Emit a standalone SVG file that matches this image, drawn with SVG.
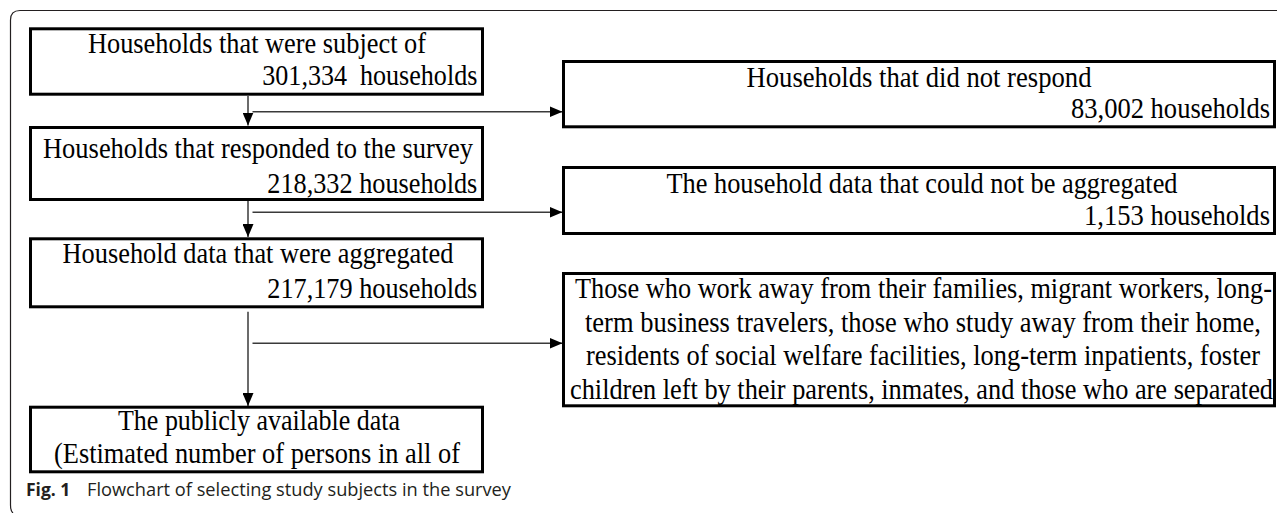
<svg xmlns="http://www.w3.org/2000/svg" width="1281" height="513" viewBox="0 0 1281 513">
<style>
.box{fill:#fff;stroke:#000;stroke-width:3}
.t{font-family:"Liberation Serif","Times New Roman",serif;font-size:29.5px;fill:#000}
.c{text-anchor:middle}
.r{text-anchor:end}
.con{fill:none;stroke:#3a3a3a;stroke-width:1.5}
.cap{font-family:"Open Sans","Noto Sans",sans-serif;font-size:17.5px;fill:#231f20}
</style>
<defs>
<marker id="ah" markerUnits="userSpaceOnUse" markerWidth="13" markerHeight="11" refX="13" refY="5.5" orient="auto">
<path d="M0,0 L13,5.5 L0,11 z" fill="#000"/>
</marker>
</defs>
<path d="M1277,10.5 H20 Q10.5,10.5 10.5,20 V505 Q10.5,511 13,513" fill="none" stroke="#231f20" stroke-width="1.2"/>
<g id="connectors">
<line class="con" x1="248" y1="96" x2="248" y2="125.5" marker-end="url(#ah)"/>
<line class="con" x1="252.5" y1="111.7" x2="562.5" y2="111.7" marker-end="url(#ah)"/>
<line class="con" x1="248" y1="201" x2="248" y2="237" marker-end="url(#ah)"/>
<line class="con" x1="252.5" y1="212.3" x2="562.5" y2="212.3" marker-end="url(#ah)"/>
<line class="con" x1="248" y1="311.7" x2="248" y2="406" marker-end="url(#ah)"/>
<line class="con" x1="252.5" y1="343.3" x2="562.5" y2="343.3" marker-end="url(#ah)"/>
</g>
<g id="n1">
<rect class="box" x="30.5" y="28.8" width="452" height="65.4"/>
<text class="t c" x="257" y="53.3" textLength="338" lengthAdjust="spacingAndGlyphs">Households that were subject of</text>
<text class="t r" x="477.3" y="85" xml:space="preserve" textLength="215" lengthAdjust="spacingAndGlyphs">301,334  households</text>
</g>
<g id="n2">
<rect class="box" x="30.5" y="127.5" width="452" height="72"/>
<text class="t c" x="258" y="158.3" textLength="430" lengthAdjust="spacingAndGlyphs">Households that responded to the survey</text>
<text class="t r" x="477.3" y="193.3" textLength="210" lengthAdjust="spacingAndGlyphs">218,332 households</text>
</g>
<g id="n3">
<rect class="box" x="30.5" y="238.8" width="452" height="68"/>
<text class="t c" x="258" y="263.3" textLength="391" lengthAdjust="spacingAndGlyphs">Household data that were aggregated</text>
<text class="t r" x="477.3" y="298.3" textLength="210" lengthAdjust="spacingAndGlyphs">217,179 households</text>
</g>
<g id="n4">
<rect class="box" x="30.5" y="407.2" width="452" height="64.6"/>
<text class="t c" x="259" y="430" textLength="282" lengthAdjust="spacingAndGlyphs">The publicly available data</text>
<text class="t c" x="257" y="462.7" textLength="406" lengthAdjust="spacingAndGlyphs">(Estimated number of persons in all of</text>
</g>
<g id="n5">
<rect class="box" x="563.5" y="61.5" width="711" height="65.3"/>
<text class="t c" x="919" y="86.7" textLength="345" lengthAdjust="spacingAndGlyphs">Households that did not respond</text>
<text class="t r" x="1270" y="118.3" textLength="199" lengthAdjust="spacingAndGlyphs">83,002 households</text>
</g>
<g id="n6">
<rect class="box" x="563.5" y="167.5" width="711" height="66"/>
<text class="t c" x="922" y="193.3" textLength="511" lengthAdjust="spacingAndGlyphs">The household data that could not be aggregated</text>
<text class="t r" x="1270" y="225" textLength="186" lengthAdjust="spacingAndGlyphs">1,153 households</text>
</g>
<g id="n7">
<rect class="box" x="563.5" y="273.5" width="711" height="132.3"/>
<text class="t" x="575" y="298" textLength="697" lengthAdjust="spacingAndGlyphs">Those who work away from their families, migrant workers, long-</text>
<text class="t c" x="923" y="331.5" textLength="676" lengthAdjust="spacingAndGlyphs">term business travelers, those who study away from their home,</text>
<text class="t c" x="923" y="365" textLength="674" lengthAdjust="spacingAndGlyphs">residents of social welfare facilities, long-term inpatients, foster</text>
<text class="t" x="570" y="398.5" textLength="703" lengthAdjust="spacingAndGlyphs">children left by their parents, inmates, and those who are separated</text>
</g>
<g id="caption">
<text class="cap" x="26" y="495.5" font-weight="bold">Fig. 1</text>
<text class="cap" x="87" y="495.5" textLength="424" lengthAdjust="spacingAndGlyphs">Flowchart of selecting study subjects in the survey</text>
</g>
</svg>
